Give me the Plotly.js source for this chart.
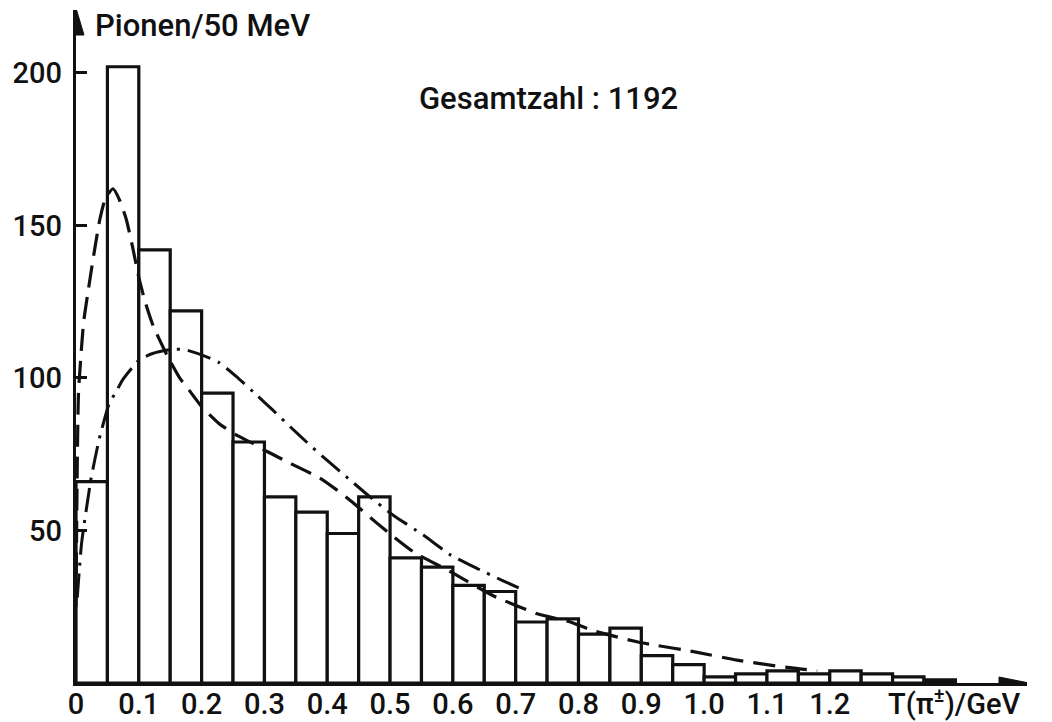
<!DOCTYPE html>
<html>
<head>
<meta charset="utf-8">
<script src="https://cdn.plot.ly/plotly-3.0.1.min.js"></script>
<style>html,body{margin:0;padding:0;background:#fff;}#chart{width:1052px;height:722px;}</style>
</head>
<body>
<div id="chart"></div>
<script>
// Histogram: pions per 50 MeV bin (bin centres in GeV)
const binCenters = [0.025, 0.075, 0.125, 0.175, 0.225, 0.275, 0.325, 0.375, 0.425, 0.475,
                    0.525, 0.575, 0.625, 0.675, 0.725, 0.775, 0.825, 0.875, 0.925, 0.975,
                    1.025, 1.075, 1.125, 1.175, 1.225, 1.275, 1.325, 1.375];
const counts = [66, 202, 142, 122, 95, 79, 61, 56, 49, 61,
                41, 38, 32, 30, 20, 21, 16, 18, 9, 6,
                2, 3, 4, 3, 4, 3, 2, 1];

// Dashed curve
const dashX = [0.0, 0.004, 0.012, 0.019, 0.028, 0.038, 0.047, 0.059, 0.07, 0.08, 0.09, 0.1, 0.11,
               0.123, 0.146, 0.165, 0.18, 0.2, 0.228, 0.255, 0.281, 0.305, 0.346, 0.389, 0.415,
               0.442, 0.479, 0.505, 0.537, 0.596, 0.665, 0.733, 0.787, 0.824, 0.893, 0.919, 0.983,
               1.052, 1.132, 1.18];
const dashY = [25, 95, 118, 128, 140, 152, 159, 162, 158, 152, 143, 133, 125,
               117, 107, 100, 96, 90.6, 85, 81.3, 78.6, 75.8, 71.5, 67.1, 63.3,
               58.9, 52.4, 48, 43, 36.5, 28.5, 22.8, 20, 17.1, 13.5, 12.5, 10.3,
               7.5, 5.1, 4];

// Dash-dot curve
const dotX = [0.002, 0.009, 0.024, 0.037, 0.053, 0.064, 0.074, 0.101, 0.122, 0.154, 0.175, 0.207,
              0.228, 0.255, 0.287, 0.313, 0.341, 0.367, 0.399, 0.436, 0.468, 0.505, 0.553, 0.596,
              0.638, 0.68, 0.712];
const dotY = [28, 46, 67, 80, 91.7, 95.5, 99.3, 106, 108, 109.4, 109.2, 107,
              105, 100.5, 94.5, 89.5, 84, 79, 73.1, 66.6, 61, 55, 48.5, 42,
              37.6, 33.5, 30.5];

const xTickVals = [0, 0.1, 0.2, 0.3, 0.4, 0.5, 0.6, 0.7, 0.8, 0.9, 1.0, 1.1, 1.2, 1.398];
const xTickText = ['0', '0.1', '0.2', '0.3', '0.4', '0.5', '0.6', '0.7', '0.8', '0.9', '1.0', '1.1', '1.2', 'T(π<sup>±</sup>)/GeV'];
const yTickVals = [50, 100, 150, 200];
const yTickText = ['50', '100', '150', '200'];

const yTitle = 'Pionen/50 MeV';
const totalLabel = 'Gesamtzahl : 1192';

const FONT = 'Roboto, "DejaVu Sans", sans-serif';
const INK = '#111';
const XMAX = 1.514, YMAX = 220.6;

const traces = [
  {
    type: 'bar', x: binCenters, y: counts, width: 0.05,
    marker: {color: '#fff', line: {color: INK, width: 3.2}},
    hoverinfo: 'skip', showlegend: false
  },
  {
    type: 'scatter', mode: 'lines', x: dashX, y: dashY,
    line: {color: INK, width: 3.2, dash: '22px,10px', shape: 'spline', smoothing: 0.5},
    showlegend: false, hoverinfo: 'skip'
  },
  {
    type: 'scatter', mode: 'lines', x: dotX, y: dotY,
    line: {color: INK, width: 3, dash: '24px,8px,3px,8px', shape: 'spline', smoothing: 0.5},
    showlegend: false, hoverinfo: 'skip'
  }
];

const layout = {
  width: 1052, height: 722,
  margin: {l: 76, r: 25, t: 10, b: 39, pad: 0},
  paper_bgcolor: '#fff', plot_bgcolor: '#fff',
  font: {family: FONT, color: INK, size: 28, weight: 500},
  bargap: 0,
  xaxis: {
    range: [0, XMAX], showgrid: false, zeroline: false,
    showline: true, linecolor: INK, linewidth: 3.2,
    ticks: '', tickmode: 'array', tickvals: xTickVals, ticktext: xTickText,
    tickfont: {family: FONT, size: 29, color: INK, weight: 500}, ticklabelstandoff: -7
  },
  yaxis: {
    range: [0, YMAX], showgrid: false, zeroline: false,
    showline: true, linecolor: INK, linewidth: 3.2,
    ticks: 'inside', ticklen: 11, tickwidth: 3, tickcolor: INK,
    tickmode: 'array', tickvals: yTickVals, ticktext: yTickText,
    tickfont: {family: FONT, size: 29, color: INK, weight: 500}, ticklabelstandoff: 5
  },
  shapes: [
    {type: 'path', xref: 'x', yref: 'y', xsizemode: 'pixel', ysizemode: 'pixel',
     xanchor: XMAX, yanchor: 0, path: 'M2,0 L-28,6 L-28,-6 Z',
     fillcolor: INK, line: {color: INK, width: 1}},
    {type: 'path', xref: 'x', yref: 'y', xsizemode: 'pixel', ysizemode: 'pixel',
     xanchor: 0, yanchor: YMAX, path: 'M0,2 L-8,-25 L8,-25 Z',
     fillcolor: INK, line: {color: INK, width: 1}}
  ],
  annotations: [
    {xref: 'x', yref: 'y', x: 0.027, y: 215.5, xanchor: 'left', yanchor: 'middle',
     text: yTitle, showarrow: false, font: {family: FONT, size: 31, color: INK, weight: 500}},
    {xref: 'x', yref: 'y', x: 0.543, y: 191.5, xanchor: 'left', yanchor: 'middle',
     text: totalLabel, showarrow: false, font: {family: FONT, size: 31, color: INK, weight: 500}}
  ]
};

Plotly.newPlot('chart', traces, layout, {staticPlot: true, displayModeBar: false});
</script>
</body>
</html>
